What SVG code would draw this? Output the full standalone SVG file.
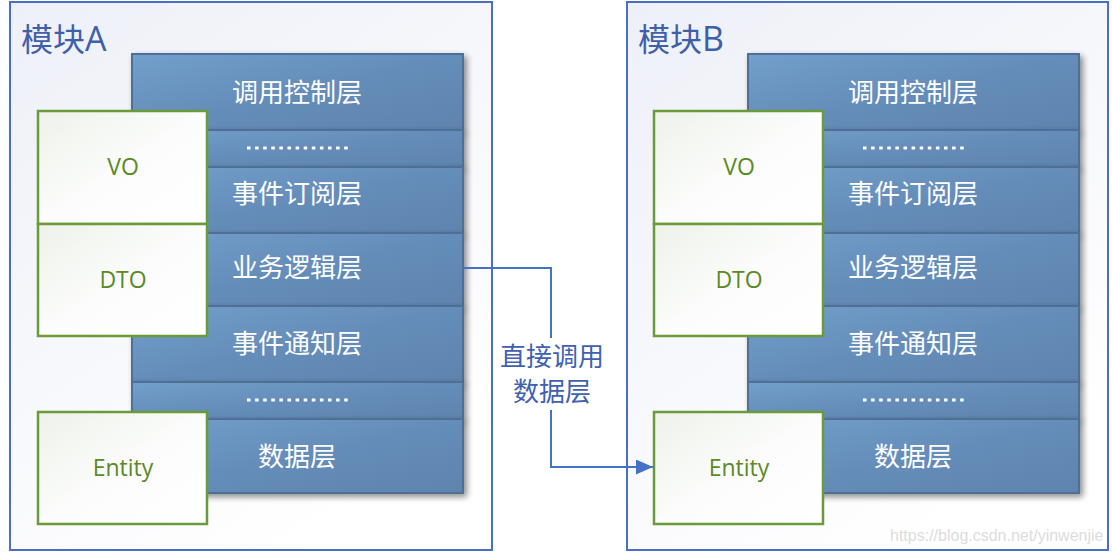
<svg xmlns="http://www.w3.org/2000/svg" width="1112" height="553" viewBox="0 0 1112 553">
<defs>
<linearGradient id="bg" x1="0" y1="0" x2="0.6" y2="1">
<stop offset="0" stop-color="#eef0f8"/><stop offset="1" stop-color="#ffffff"/>
</linearGradient>
<linearGradient id="layer" x1="0" y1="0" x2="1" y2="1">
<stop offset="0" stop-color="#729fcc"/><stop offset="0.5" stop-color="#658db9"/><stop offset="1" stop-color="#5e84ae"/>
</linearGradient>
<linearGradient id="green" x1="0" y1="0" x2="1" y2="1">
<stop offset="0" stop-color="#eef2ea"/><stop offset="0.5" stop-color="#fbfcfb"/><stop offset="1" stop-color="#ffffff"/>
</linearGradient>
<filter id="sh" x="-10%" y="-20%" width="130%" height="160%">
<feGaussianBlur in="SourceAlpha" stdDeviation="3"/>
<feOffset dx="3" dy="3" result="b"/>
<feComponentTransfer><feFuncA type="linear" slope="0.45"/></feComponentTransfer>
<feMerge><feMergeNode/><feMergeNode in="SourceGraphic"/></feMerge>
</filter>
<marker id="ah" markerWidth="17" markerHeight="15" refX="17" refY="7.5" orient="auto" markerUnits="userSpaceOnUse" viewBox="0 0 17 15">
<path d="M0,0 L17,7.5 L0,15 z" fill="#4472c4"/>
</marker>
</defs>
<style>
.mod{fill:url(#bg);stroke:#4a6fc0;stroke-width:2}
.mt{font-family:"Noto Sans CJK SC","Liberation Sans",sans-serif;font-size:32px;fill:#3f5fa8}
.mtl{font-family:"Open Sans","Liberation Sans",sans-serif;font-size:34px;fill:#3f5fa8}
.ly{fill:url(#layer);stroke:#4f6f96;stroke-width:2;filter:url(#sh)}
.lt{font-family:"Noto Sans CJK SC","Liberation Sans",sans-serif;font-size:26px;fill:#ffffff;text-anchor:middle}
.dots{stroke:#ffffff;stroke-width:3;stroke-dasharray:3.5 4.6}
.gb{fill:url(#green);stroke:#6a9a3a;stroke-width:2.5}
.gt{font-family:"Open Sans","Noto Sans","Liberation Sans",sans-serif;font-size:23px;fill:#5a8a25;text-anchor:middle}
.ct{font-family:"Noto Sans CJK SC","Liberation Sans",sans-serif;font-size:26px;fill:#4060b0;text-anchor:middle}
.wm{font-family:"Liberation Sans",sans-serif;font-size:16px;fill:#dcdcdc}
</style>
<g id="moduleA">
<rect class="mod" x="10" y="2" width="482" height="548"/>
<text class="mt" x="21" y="51">模块<tspan class="mtl">A</tspan></text>
<g id="layersA">
<rect class="ly" x="132" y="54" width="331" height="76"/>
<text class="lt" x="297" y="102">调用控制层</text>
<rect class="ly" x="132" y="130" width="331" height="37"/>
<line class="dots" x1="247" y1="148" x2="350" y2="148"/>
<rect class="ly" x="132" y="167" width="331" height="66"/>
<text class="lt" x="297" y="203">事件订阅层</text>
<rect class="ly" x="132" y="233" width="331" height="73"/>
<text class="lt" x="297" y="277">业务逻辑层</text>
<rect class="ly" x="132" y="306" width="331" height="76"/>
<text class="lt" x="297" y="353">事件通知层</text>
<rect class="ly" x="132" y="382" width="331" height="37"/>
<line class="dots" x1="247" y1="400" x2="350" y2="400"/>
<rect class="ly" x="132" y="419" width="331" height="74"/>
<text class="lt" x="297" y="466">数据层</text>
</g>
<g id="voA"><rect class="gb" x="38" y="111" width="169" height="113"/><text class="gt" x="123" y="175">VO</text></g>
<g id="dtoA"><rect class="gb" x="38" y="224" width="169" height="112"/><text class="gt" x="123" y="288">DTO</text></g>
<g id="entityA"><rect class="gb" x="38" y="412" width="169" height="112"/><text class="gt" x="123" y="476">Entity</text></g>
</g>
<g id="moduleB">
<rect class="mod" x="627" y="2" width="481" height="548"/>
<text class="mt" x="638" y="51">模块<tspan class="mtl">B</tspan></text>
<g id="layersB">
<rect class="ly" x="748" y="54" width="331" height="76"/>
<text class="lt" x="913" y="102">调用控制层</text>
<rect class="ly" x="748" y="130" width="331" height="37"/>
<line class="dots" x1="863" y1="148" x2="966" y2="148"/>
<rect class="ly" x="748" y="167" width="331" height="66"/>
<text class="lt" x="913" y="203">事件订阅层</text>
<rect class="ly" x="748" y="233" width="331" height="73"/>
<text class="lt" x="913" y="277">业务逻辑层</text>
<rect class="ly" x="748" y="306" width="331" height="76"/>
<text class="lt" x="913" y="353">事件通知层</text>
<rect class="ly" x="748" y="382" width="331" height="37"/>
<line class="dots" x1="863" y1="400" x2="966" y2="400"/>
<rect class="ly" x="748" y="419" width="331" height="74"/>
<text class="lt" x="913" y="466">数据层</text>
</g>
<g id="voB"><rect class="gb" x="654" y="111" width="169" height="113"/><text class="gt" x="739" y="175">VO</text></g>
<g id="dtoB"><rect class="gb" x="654" y="224" width="169" height="112"/><text class="gt" x="739" y="288">DTO</text></g>
<g id="entityB"><rect class="gb" x="654" y="412" width="169" height="112"/><text class="gt" x="739" y="476">Entity</text></g>
</g>
<g id="connectors">
<polyline points="463,268 551,268 551,338" fill="none" stroke="#4472c4" stroke-width="2"/>
<polyline points="551,410 551,467 653,467" fill="none" stroke="#4472c4" stroke-width="2" marker-end="url(#ah)"/>
<text class="ct" x="552" y="366">直接调用</text>
<text class="ct" x="552" y="401">数据层</text>
</g>
<text class="wm" x="890" y="541">https://blog.csdn.net/yinwenjie</text>
</svg>
